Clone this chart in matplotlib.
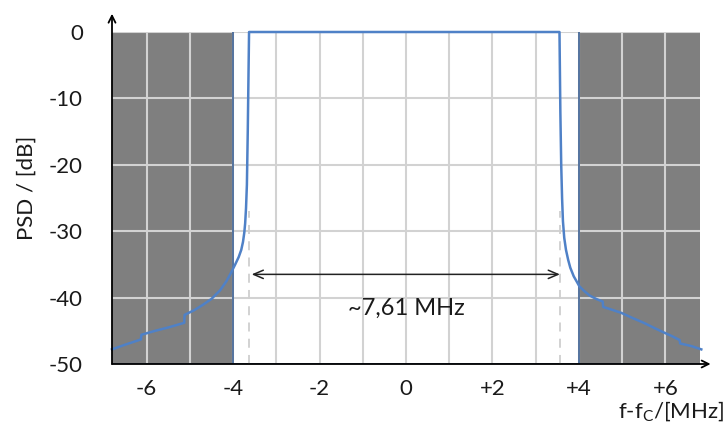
import matplotlib.pyplot as plt

plt.rcParams['font.family'] = ['Lato', 'DejaVu Sans']
plt.rcParams['axes.unicode_minus'] = False

# spectrum (MHz offset from carrier, dB)
freq_mhz = [-6.8, -6.5, -6.13, -6.12, -5.8, -5.5, -5.13, -5.12, -4.9, -4.7, -4.5,
            -4.3, -4.15, -4.05, -3.95, -3.87, -3.81, -3.77, -3.74, -3.72, -3.7,
            -3.68, -3.66, -3.63,
            3.55, 3.57, 3.59, 3.61, 3.63, 3.66, 3.70, 3.75, 3.80, 3.88, 3.95, 4.01,
            4.12, 4.25, 4.4, 4.55, 4.56, 4.75, 4.98, 5.25, 5.5, 5.75, 5.98, 6.15,
            6.33, 6.34, 6.6, 6.83]
psd_db = [-47.8, -47.1, -46.3, -45.6, -45.0, -44.5, -43.8, -42.6, -41.9, -41.1, -40.2,
          -38.9, -37.5, -36.3, -35.0, -33.9, -32.8, -31.6, -30.2, -28.8, -26.5,
          -23.0, -15.0, 0.0,
          0.0, -12.0, -20.0, -25.0, -28.5, -31.0, -32.8, -34.3, -35.5, -36.8, -37.6, -38.3,
          -39.0, -39.7, -40.2, -40.6, -41.4, -41.8, -42.3, -43.1, -43.8, -44.6, -45.3, -45.8,
          -46.4, -46.9, -47.3, -47.8]

stop_edges = [-4.0, 4.0]          # start of grey stop bands
bw_edges = [-3.62, 3.56]          # dashed bandwidth markers
bw_text = "~7,61 MHz"
xticks = [-6, -4, -2, 0, 2, 4, 6]
xtick_labels = ["-6", "-4", "-2", "0", "+2", "+4", "+6"]
yticks = [-50, -40, -30, -20, -10, 0]

fig = plt.figure(figsize=(7.24, 4.34), dpi=100)
ax = fig.add_axes([112 / 724, 1 - 364 / 434, 588 / 724, 332 / 434])
ax.set_xlim(-6.8, 6.8)
ax.set_ylim(-50, 0)

# grey stop bands
ax.axvspan(-6.8, stop_edges[0], color='#7f7f7f', lw=0, zorder=0)
ax.axvspan(stop_edges[1], 6.8, color='#7f7f7f', lw=0, zorder=0)
for e in stop_edges:
    ax.axvline(e, color='#4a6b9a', lw=1.3, zorder=1)

# grid
for xg in range(-6, 7):
    ax.axvline(xg, color='#d2d2d2', lw=1.5, zorder=0.5)
for yg in yticks[1:]:
    ax.axhline(yg, color='#d2d2d2', lw=1.5, zorder=0.5)
ax.axhline(-50, color='#4a6b9a', lw=1.3, zorder=1)

# dashed bandwidth markers
for b in bw_edges:
    ax.plot([b, b], [-50, -27], color='#cfcfcf', lw=1.3, ls=(0, (5, 4)), zorder=1.5)

ax.plot(freq_mhz, psd_db, color='#4f81c7', lw=1.8, zorder=3, clip_on=False)

# width arrow
ax.annotate('', xy=(bw_edges[1], -36.5), xytext=(bw_edges[0] + 0.05, -36.5),
            arrowprops=dict(arrowstyle='<->,head_length=0.7,head_width=0.3',
                            color='#222222', lw=1.1, shrinkA=0, shrinkB=0), zorder=4)
ax.text(0, -41.6, bw_text, ha='center', va='center', fontsize=17, color='#1a1a1a')

# axes with arrows
for s in ax.spines.values():
    s.set_visible(False)
ax.annotate('', xy=(0, 1.055), xytext=(0, 0), xycoords='axes fraction',
            arrowprops=dict(arrowstyle='->,head_length=0.5,head_width=0.25',
                            color='black', lw=1.3, shrinkA=0, shrinkB=0))
ax.annotate('', xy=(1.018, 0), xytext=(0, 0), xycoords='axes fraction',
            arrowprops=dict(arrowstyle='->,head_length=0.5,head_width=0.25',
                            color='black', lw=1.3, shrinkA=0, shrinkB=0))

ax.set_xticks(xticks)
ax.set_xticklabels(xtick_labels)
ax.set_yticks(yticks)
ax.tick_params(axis='both', length=0, labelsize=16, colors='#1a1a1a')
ax.tick_params(axis='y', pad=21)
ax.tick_params(axis='x', pad=11)

ax.set_ylabel('PSD / [dB]', fontsize=16, color='#1a1a1a')
ax.yaxis.set_label_coords(-(112 - 37) / 588, 0.53)
fig.text(724 / 724, 1 - 411 / 434, r'f-f$\mathregular{_C}$/[MHz]', ha='right', va='center',
         fontsize=16, color='#1a1a1a')

fig.savefig('out.png', dpi=100)
